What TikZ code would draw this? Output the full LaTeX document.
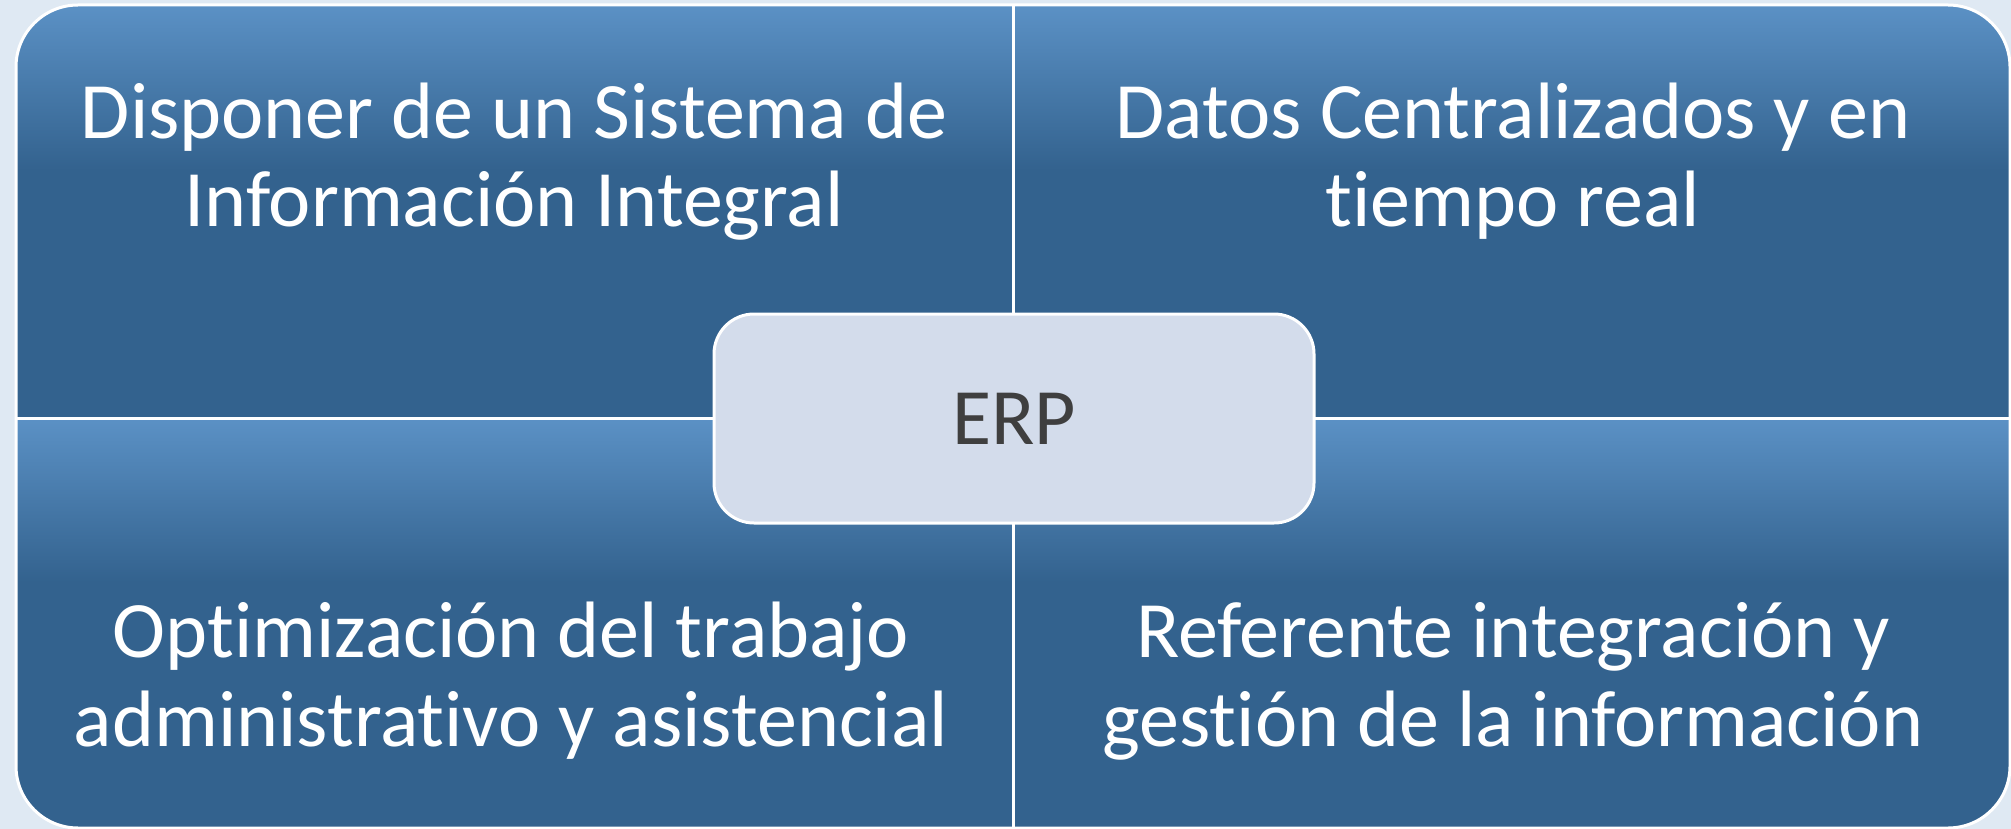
\documentclass[tikz,border=0pt]{standalone}
\usepackage{fontspec}
\setmainfont{Carlito}[Ligatures={NoCommon}]
\definecolor{bg}{HTML}{DFE9F3}
\definecolor{qlight}{HTML}{5B91C5}
\definecolor{qdark}{HTML}{33628E}
\definecolor{erpfill}{HTML}{D3DCEB}
\definecolor{erptext}{HTML}{3F3F3F}
\pgfdeclareverticalshading{quadshade}{100bp}{color(0bp)=(qdark); color(25bp)=(qdark); color(55bp)=(qdark); color(75bp)=(qlight); color(100bp)=(qlight)}
\begin{document}
\begin{tikzpicture}[x=1pt,y=-1pt,
  quadtext/.style={text=white, font=\fontsize{80}{88.5}\selectfont, align=center, inner sep=0pt, anchor=base},
  quad/.style={shading=quadshade},
  divider/.style={white, line width=3pt},
  erpbox/.style={draw=white, line width=3pt, fill=erpfill, rounded corners=40pt,
    minimum width=600pt, minimum height=209pt, text=erptext,
    font=\fontsize{80}{88}\selectfont, inner sep=0pt}]
\useasboundingbox (0,0) rectangle (2011,829);
\fill[bg] (0,0) rectangle (2011,829);
\begin{scope}
  \clip[rounded corners=62pt] (16,5) rectangle (2010,828);
  \shade[quad] (16,5) rectangle (1013,418);
  \shade[quad] (1013,5) rectangle (2010,418);
  \shade[quad] (16,418) rectangle (1013,828);
  \shade[quad] (1013,418) rectangle (2010,828);
\end{scope}
\draw[divider, rounded corners=62pt] (16,5) rectangle (2010,828);
\coordinate (vt) at (1013,5);
\coordinate (vb) at (1013,828);
\coordinate (hl) at (16,418);
\coordinate (hr) at (2010,418);
\draw[divider] (vt) -- (vb);
\draw[divider] (hl) -- (hr);
\node[quadtext] (tl) at (514,227) {Disponer de un Sistema de\\Información Integral};
\node[quadtext] (tr) at (1513,227) {Datos Centralizados y en\\tiempo real};
\node[quadtext] (bl) at (511,746) {Optimización del trabajo\\administrativo y asistencial};
\node[quadtext] (br) at (1513,746) {Referente integración y\\gestión de la información};
\node[erpbox] (erp) at (1014,418.5) {ERP};
\end{tikzpicture}
\end{document}
